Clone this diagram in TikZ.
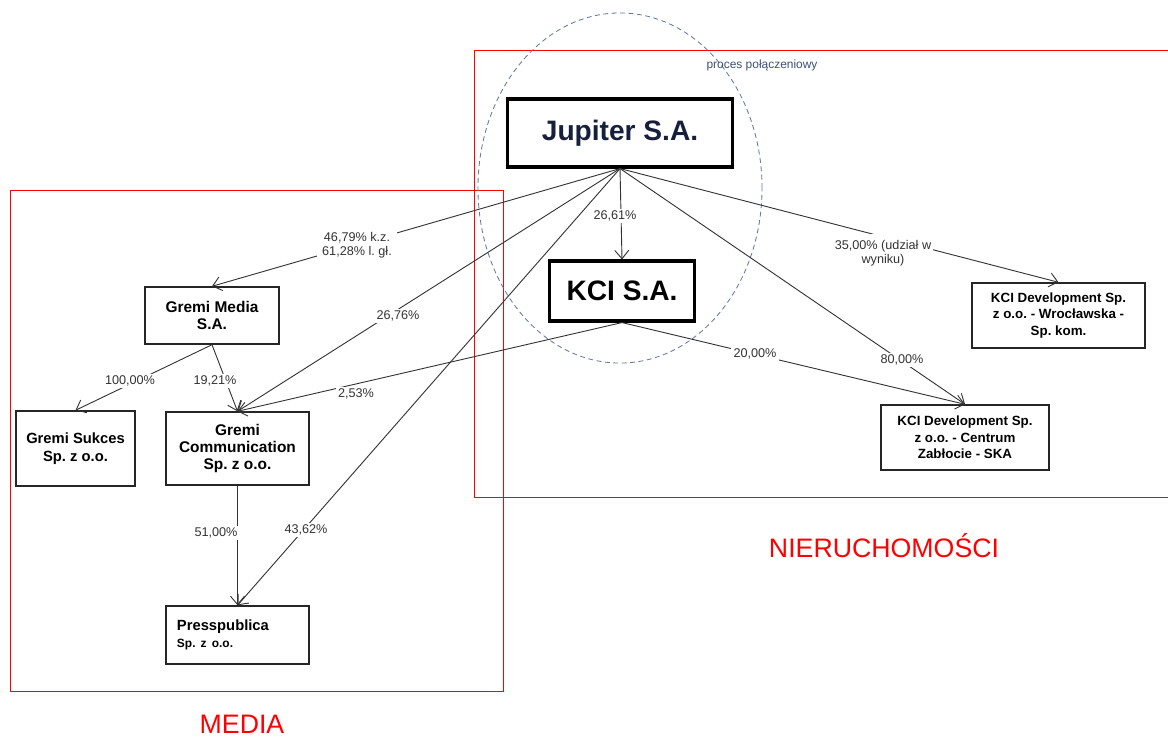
\documentclass[tikz,border=0pt]{standalone}
\usepackage{fontspec}
\setmainfont{Liberation Sans}
\usetikzlibrary{arrows.meta}
\frenchspacing

\begin{document}
\begin{tikzpicture}[x=0.025cm, y=-0.025cm,
  box/.style={draw=black!85, line width=1pt, fill=white, align=center, inner sep=2pt, font=\bfseries\fontsize{11}{12.4}\selectfont},
  bigbox/.style={draw=black, line width=2.2pt, fill=white, font=\bfseries\fontsize{20}{24}\selectfont},
  devbox/.style={box, font=\bfseries\fontsize{9.5}{11.6}\selectfont},
  pct/.style={fill=white, inner sep=1.5pt, align=center, text=black!80, font=\fontsize{9}{10.2}\selectfont},
  link/.style={draw=black!80, line width=0.65pt, -{Straight Barb[length=6pt, width=10pt]}},
  area/.style={draw=red, line width=0.7pt}]
\useasboundingbox (0,0) rectangle (1168,738);

% obszary
\draw[area] (10,190) rectangle (503,691);
\draw[area] (1168,50) -- (474,50) -- (474,497) -- (1168,497);
\draw[line width=0.6pt, draw={rgb,255:red,100;green,120;blue,160}, dash pattern=on 3.5pt off 2.5pt]
  (620,188) ellipse [x radius=3.55cm, y radius=4.375cm];
\node[text={rgb,255:red,60;green,80;blue,120}, font=\fontsize{8.5}{10}\selectfont] (proc) at (762,65) {proces połączeniowy};
\node[text=red, font=\fontsize{19}{22}\selectfont] (nier) at (884,546) {NIERUCHOMOŚCI};
\node[text=red, font=\fontsize{19}{22}\selectfont] (media) at (242,724) {MEDIA};

% spolki
\node[bigbox, text={rgb,255:red,22;green,32;blue,60}, minimum width=5.625cm, minimum height=1.7cm] (jupiter) at (620,133) {Jupiter S.A.};
\node[bigbox, minimum width=3.625cm, minimum height=1.5cm] (kci) at (622,291) {KCI S.A.};
\node[box, minimum width=3.35cm, minimum height=1.425cm] (gmedia) at (212,315.5) {Gremi Media\\S.A.};
\node[box, minimum width=2.975cm, minimum height=1.875cm, font=\bfseries\fontsize{10.5}{12.4}\selectfont] (gsukces) at (75.5,448.5) {Gremi Sukces\\Sp. z o.o.};
\node[box, minimum width=3.575cm, minimum height=1.825cm] (gcomm) at (237.5,448.5) {Gremi\\Communication\\Sp. z o.o.};
\node[box, text width=3.025cm, align=left, inner xsep=0.275cm, minimum height=1.45cm] (press) at (237.5,635)
  {\fontsize{10.5}{11}\selectfont Presspublica\\\fontsize{8.5}{10}\selectfont Sp. z o.o.};
\node[devbox, minimum width=4.325cm, minimum height=1.625cm] (kcwroc) at (1058.5,315.5) {KCI Development Sp.\\z o.o. - Wrocławska -\\Sp. kom.};
\node[devbox, minimum width=4.2cm, minimum height=1.625cm] (kccentr) at (965,437.5) {KCI Development Sp.\\z o.o. - Centrum\\Zabłocie - SKA};

% powiazania
\draw[link] (jupiter.south) -- (gmedia.north);
\draw[link] (jupiter.south) -- (gcomm.north);
\draw[link] (jupiter.south) -- (press.north);
\draw[link] (jupiter.south) -- (kci.north);
\draw[link] (jupiter.south) -- (kcwroc.north);
\draw[link] (jupiter.south) -- (kccentr.north);
\draw[link] (kci.south) -- (gcomm.north);
\draw[link] (kci.south) -- (kccentr.north);
\draw[link] (gmedia.south) -- (gsukces.north);
\draw[link] (gmedia.south) -- (gcomm.north);
\draw[link] (gcomm.south) -- (press.north);

% udzialy
\node[pct, inner xsep=4pt] (p1) at (357,245) {46,79\% k.z.\\61,28\% l. gł.};
\node[pct] (p2) at (398,316) {26,76\%};
\node[pct] (p3) at (306,530) {43,62\%};
\node[pct] (p4) at (615,216) {26,61\%};
\node[pct, inner ysep=4pt] (p5) at (883,253) {35,00\% (udział w\\wyniku)};
\node[pct] (p6) at (902,360) {80,00\%};
\node[pct] (p7) at (356,394) {2,53\%};
\node[pct] (p8) at (755,354) {20,00\%};
\node[pct] (p9) at (130,381) {100,00\%};
\node[pct] (p10) at (215,381) {19,21\%};
\node[pct] (p11) at (216,533) {51,00\%};
\end{tikzpicture}
\end{document}
